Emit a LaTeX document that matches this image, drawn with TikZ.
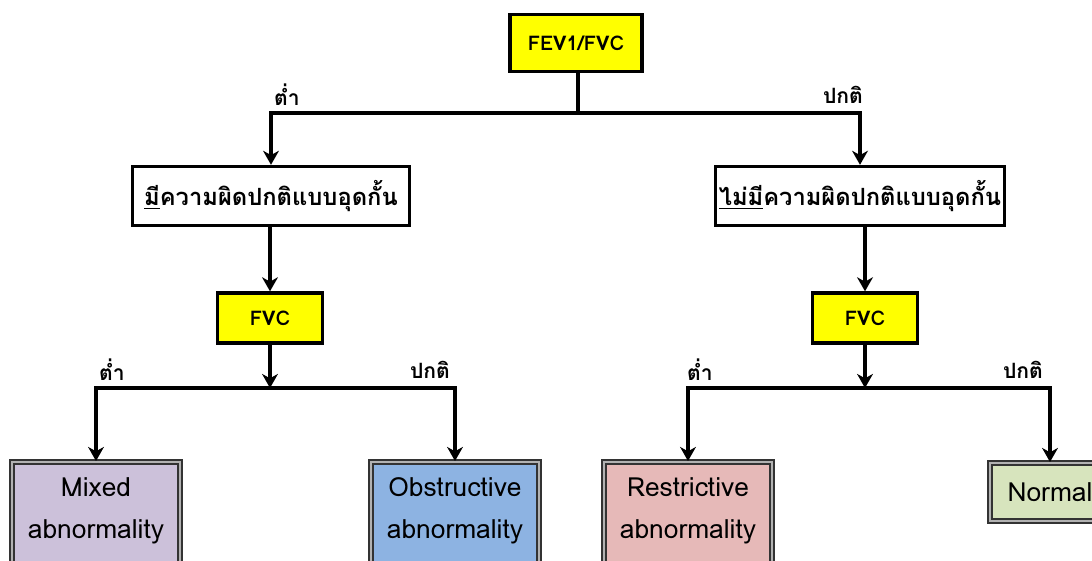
\documentclass[tikz,border=0pt]{standalone}
\usepackage{fontspec}
\setmainfont[Script=Thai]{Loma}
\usetikzlibrary{arrows.meta}

\def\unitpx{0.02cm}
\definecolor{testyellow}{HTML}{FFFF00}
\definecolor{mixedfill}{HTML}{CCC1DA}
\definecolor{obstrfill}{HTML}{8DB3E2}
\definecolor{restrfill}{HTML}{E6B9B8}
\definecolor{normalfill}{HTML}{D7E4BD}

\begin{document}
\begin{tikzpicture}[x=\unitpx, y=-\unitpx, line width=1.8pt,
    >={Stealth[length=8pt,width=9pt,inset=2.5pt]}]
    \tikzstyle{test}=[draw=black, line width=1.9pt, fill=testyellow, font=\bfseries\fontsize{11.5}{13}\selectfont]
    \tikzstyle{finding}=[draw=black, line width=1.9pt, fill=white, minimum height=59*\unitpx, inner xsep=2pt, font=\bfseries\fontsize{13.5}{15}\selectfont]
    \tikzstyle{result}=[draw=black!80, line width=1pt, double=black!30, double distance=1pt, align=center, inner xsep=0pt, inner ysep=9pt, font=\fontsize{15}{24}\selectfont]
    \tikzstyle{annot}=[font=\bfseries\fontsize{12}{14}\selectfont]

    \useasboundingbox (0,0) rectangle (1092,561);
    \clip (0,0) rectangle (1092,561);

    % the spirometry test at the top
    \node[test, minimum width=132*\unitpx, minimum height=57*\unitpx] (fev) at (576,43) {FEV1/FVC};

    % obstructive or not
    \node[finding, minimum width=277*\unitpx] (obs) at (271,196) {\underline{มี}ความผิดปกติแบบอุดกั้น};
    \node[finding, minimum width=285*\unitpx] (noobs) at (860,196) {\underline{ไม่มี}ความผิดปกติแบบอุดกั้น};

    % second test
    \node[test, minimum width=105*\unitpx, minimum height=50*\unitpx] (fvcL) at (270,318) {FVC};
    \node[test, minimum width=105*\unitpx, minimum height=50*\unitpx] (fvcR) at (865,318) {FVC};

    % the four results
    \node[result, fill=mixedfill, minimum width=168*\unitpx, anchor=north] (mixed) at (96,461) {Mixed\\abnormality\\\strut};
    \node[result, fill=obstrfill, minimum width=168*\unitpx, anchor=north] (obstr) at (455,461) {Obstructive\\abnormality\\\strut};
    \node[result, fill=restrfill, minimum width=168*\unitpx, anchor=north] (restr) at (688,461) {Restrictive\\abnormality\\\strut};
    \node[result, fill=normalfill, minimum width=120*\unitpx, minimum height=58*\unitpx, inner ysep=0pt, anchor=north] (normal) at (1050,462) {Normal};

    % branch points
    \coordinate (top) at (578,113);
    \coordinate (midL) at (270,388);
    \coordinate (midR) at (865,388);

    \draw (fev.south -| top) -- (top);
    \draw[->] (top) -| (obs.north);
    \draw[->] (top) -| (noobs.north);
    \draw[->] (obs.south -| fvcL) -- (fvcL.north);
    \draw[->] (noobs.south -| fvcR) -- (fvcR.north);

    \draw[->] (fvcL.south) -- (midL);
    \draw[->] (midL) -| (mixed.north);
    \draw[->] (midL) -| (obstr.north);
    \draw[->] (fvcR.south) -- (midR);
    \draw[->] (midR) -| (restr.north);
    \draw[->] (midR) -| (normal.north);

    % branch labels
    \node[annot] (lowA) at (287,95) {ต่ำ};
    \node[annot] (normA) at (843,95) {ปกติ};
    \node[annot] (lowB) at (112,370) {ต่ำ};
    \node[annot] (normB) at (430,370) {ปกติ};
    \node[annot] (lowC) at (700,370) {ต่ำ};
    \node[annot] (normC) at (1023,370) {ปกติ};
\end{tikzpicture}
\end{document}
